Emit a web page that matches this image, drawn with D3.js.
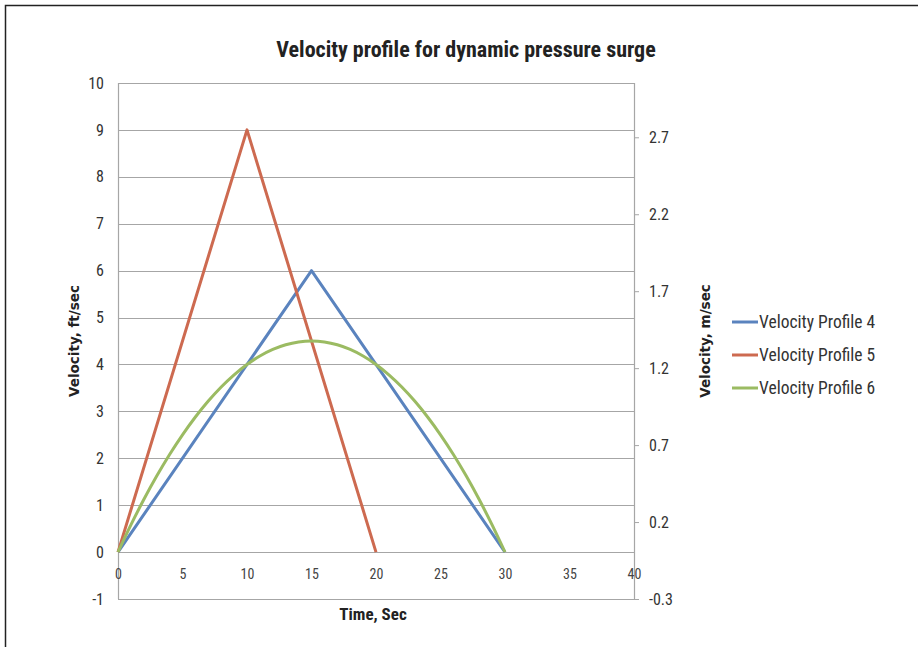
<!DOCTYPE html>
<html><head><meta charset="utf-8">
<script src="https://cdn.jsdelivr.net/npm/d3@7"></script>
<style>
body{margin:0;background:#fff;}
svg{display:block;}
.cond{font-family:"Liberation Sans Narrow","Roboto Condensed","Open Sans",sans-serif;}
</style></head>
<body><svg id="c" width="918" height="647"></svg>
<script>
const title = "Velocity profile for dynamic pressure surge";
const xLabel = "Time, Sec";
const yLabelLeft = "Velocity, ft/sec";
const yLabelRight = "Velocity, m/sec";
const xTicks = [0,5,10,15,20,25,30,35,40];
const yTicksLeft = [-1,0,1,2,3,4,5,6,7,8,9,10];
const yTicksRight = [-0.3048,0.1952,0.6952,1.1952,1.6952,2.1952,2.6952];
const seriesNames = ["Velocity Profile 4","Velocity Profile 5","Velocity Profile 6"];
const seriesColors = ["#5A83BE","#CD6A50","#9BBB62"];
const p4Time = [0,15,30];
const p4Vel  = [0,6,0];
const p5Time = [0,10,20];
const p5Vel  = [0,9,0];
const p6Time = [0,1,2,3,4,5,6,7,8,9,10,11,12,13,14,15,16,17,18,19,20,21,22,23,24,25,26,27,28,29,30];
const p6Vel  = [0,0.58,1.12,1.62,2.08,2.5,2.88,3.22,3.52,3.78,4.0,4.18,4.32,4.42,4.48,4.5,4.48,4.42,4.32,4.18,4.0,3.78,3.52,3.22,2.88,2.5,2.08,1.62,1.12,0.58,0];

const svg = d3.select("#c");
svg.append("rect").attr("x",5.5).attr("y",5.5).attr("width",1000).attr("height",1000)
  .attr("fill","none").attr("stroke","#222").attr("stroke-width",1.5);

const L=118, R=634, T=83, B=599;
const x = d3.scaleLinear().domain([0,40]).range([L,R]);
const y = d3.scaleLinear().domain([-1,10]).range([B,T]);
const y2 = d3.scaleLinear().domain([-0.3048,3.048]).range([B,T]);
const hy = f => (d => f(d).replace("\u2212","-"));

svg.append("g").selectAll("line").data(yTicksLeft).join("line")
  .attr("x1",L).attr("x2",R).attr("y1",d=>Math.round(y(d))+0.5).attr("y2",d=>Math.round(y(d))+0.5)
  .attr("stroke","#a6a6a6").attr("stroke-width",1.2);
svg.append("line").attr("x1",L+0.5).attr("x2",L+0.5).attr("y1",T).attr("y2",B).attr("stroke","#a6a6a6").attr("stroke-width",1.2);
svg.append("line").attr("x1",R+0.5).attr("x2",R+0.5).attr("y1",T).attr("y2",B).attr("stroke","#a6a6a6").attr("stroke-width",1.2);

const leftAx = d3.axisLeft(y).tickValues(yTicksLeft).tickSize(0).tickPadding(14).tickFormat(hy(d3.format("d")));
const gl = svg.append("g").attr("transform",`translate(${L},0)`).call(leftAx);
gl.select(".domain").remove();
gl.selectAll("text").attr("class","cond").style("font-size","16px").attr("fill","#333");

const rightAx = d3.axisRight(y2).tickValues(yTicksRight).tickSize(5).tickPadding(10).tickFormat(hy(d3.format(".1f")));
const gr = svg.append("g").attr("transform",`translate(${R},0)`).call(rightAx);
gr.select(".domain").remove();
gr.selectAll("line").attr("stroke","#a6a6a6");
gr.selectAll("text").attr("class","cond").style("font-size","16px").attr("fill","#333");

const xAx = d3.axisBottom(x).tickValues(xTicks).tickSize(0).tickPadding(17).tickFormat(hy(d3.format("d")));
const gx = svg.append("g").attr("transform",`translate(0,${y(0)})`).call(xAx);
gx.select(".domain").remove();
gx.selectAll("text").attr("class","cond").style("font-size","14px").attr("fill","#444");

const line = d3.line().x(d=>x(d[0])).y(d=>y(d[1]));
const series = [d3.zip(p4Time,p4Vel), d3.zip(p5Time,p5Vel), d3.zip(p6Time,p6Vel)];
const curves = [d3.curveLinear, d3.curveLinear, d3.curveMonotoneX];
series.forEach((s,i)=>{
  svg.append("path").datum(s).attr("d",line.curve(curves[i])).attr("fill","none")
    .attr("stroke",seriesColors[i]).attr("stroke-width",3).attr("stroke-linejoin","round");
});

svg.append("text").attr("x",466).attr("y",57).attr("text-anchor","middle").attr("class","cond")
  .style("font-size","22px").style("font-weight","bold").attr("fill","#222").text(title);
svg.append("text").attr("x",373).attr("y",620).attr("text-anchor","middle").attr("class","cond")
  .style("font-size","17px").style("font-weight","bold").attr("fill","#222").text(xLabel);
svg.append("text").attr("transform","translate(79,341) rotate(-90)").attr("text-anchor","middle")
  .style("font-family","'DejaVu Sans',sans-serif").style("font-size","13.5px").style("font-weight","bold").attr("fill","#222").text(yLabelLeft);
svg.append("text").attr("transform","translate(710,341) rotate(-90)").attr("text-anchor","middle")
  .style("font-family","'DejaVu Sans',sans-serif").style("font-size","13.5px").style("font-weight","bold").attr("fill","#222").text(yLabelRight);

const lg = svg.append("g");
seriesNames.forEach((n,i)=>{
  const yy = 322 + i*33;
  lg.append("line").attr("x1",732).attr("x2",758).attr("y1",yy).attr("y2",yy).attr("stroke",seriesColors[i]).attr("stroke-width",3);
  lg.append("text").attr("x",759).attr("y",yy+6).attr("class","cond").style("font-size","17.5px").attr("fill","#333").text(n);
});
</script></body></html>
